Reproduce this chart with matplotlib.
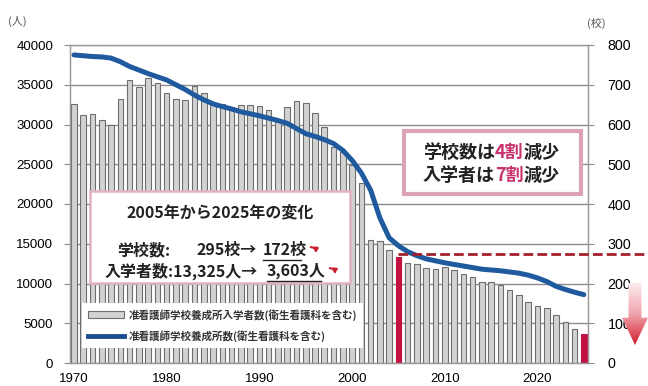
import numpy as np
import matplotlib
matplotlib.use('Agg')
import matplotlib.pyplot as plt
from matplotlib.patches import Patch, Rectangle, Polygon, FancyArrowPatch
from matplotlib.lines import Line2D
from matplotlib.colors import LinearSegmentedColormap

plt.rcParams['font.family'] = ['Noto Sans CJK JP', 'DejaVu Sans']

# 年次データ（1970〜2025）
years = list(range(1970, 2026))
# 入学者数（人）
students = [
    32600, 31200, 31300, 30600, 30000, 33200, 35600, 34700, 35800, 35200,
    34000, 33200, 33100, 34800, 34000, 32400, 32600, 32200, 32400, 32500,
    32300, 31800, 30400, 32200, 32900, 32700, 31400, 29700, 27200, 26500,
    24900, 22600, 15500, 15300, 14200, 13325, 12620, 12450, 11910, 11780,
    12040, 11700, 11200, 10780, 10230, 10150, 9810, 9180, 8550, 7710,
    7170, 6880, 6040, 5200, 4240, 3603,
]
# 養成所数（校）
schools = [
    775, 773, 771, 770, 767, 758, 746, 737, 728, 720,
    712, 700, 688, 674, 662, 652, 645, 639, 632, 627,
    622, 616, 610, 603, 590, 577, 570, 562, 552, 535,
    510, 478, 435, 365, 315, 295, 280, 270, 262, 257,
    252, 248, 244, 240, 236, 234, 232, 229, 226, 221,
    214, 205, 193, 185, 178, 172,
]
highlight_years = [2005, 2025]
ref_level = 273   # 2005年前後の水準（右軸）

legend_labels = ['准看護師学校養成所入学者数(衛生看護科を含む)',
                 '准看護師学校養成所数(衛生看護科を含む)']
x_ticks = [1970, 1980, 1990, 2000, 2010, 2020]

W, H = 648, 386
def fx(px):
    return px / W
def fy(py):
    return 1 - py / H

fig = plt.figure(figsize=(W / 100, H / 100), dpi=100)
renderer = fig.canvas.get_renderer()
ax = fig.add_axes([fx(70), fy(363), (588 - 70) / W, (363 - 45) / H])
ax2 = ax.twinx()

num_font = 'Liberation Sans'

# 棒グラフ：入学者数
bar_colors = ['#c3123f' if y in highlight_years else '#d2d2d2' for y in years]
edge_colors = ['#c3123f' if y in highlight_years else '#6e6e6e' for y in years]
ax.bar(years, students, width=0.6, color=bar_colors, edgecolor=edge_colors,
       linewidth=0.8, zorder=2)

ax.set_xlim(1969.57, 2025.45)
ax.set_ylim(0, 40000)
ax.set_yticks(range(0, 40001, 5000))
ax.set_xticks(x_ticks)
ax.yaxis.grid(True, color='#8c8c8c', linewidth=1.0)
ax.set_axisbelow(True)
ax.tick_params(axis='y', length=4, color='#8c8c8c', pad=8, labelsize=9.5)
ax.tick_params(axis='x', length=0, pad=7, labelsize=9.5)
for lab in ax.get_yticklabels() + ax.get_xticklabels():
    lab.set_fontfamily(num_font)

# 折れ線：養成所数
ax2.plot(years, schools, color='#1f5a9e', linewidth=3.6, solid_capstyle='round',
         zorder=3)
ax2.set_ylim(0, 800)
ax2.set_yticks(range(0, 801, 100))
ax2.tick_params(axis='y', length=4, color='#8c8c8c', pad=10, labelsize=10.3)
for lab in ax2.get_yticklabels():
    lab.set_fontfamily(num_font)

for a in (ax, ax2):
    for s in a.spines.values():
        s.set_color('#9a9a9a')
        s.set_linewidth(0.9)

# 2005年水準の破線
ax2.plot([2005, 2032], [ref_level, ref_level], color='#a3202c', linewidth=2.0,
         linestyle=(0, (3.5, 1.5)), clip_on=False, zorder=4)

# 単位
fig.text(fx(8), fy(21), '(人)', fontsize=8, color='#555555', va='center')
fig.text(fx(587), fy(23), '(校)', fontsize=8, color='#555555', va='center')


def chain_text(x_px, y_px, parts, **kw):
    """文字列を左から順に並べる。最後の右端(px)を返す"""
    x = x_px
    for s, c in parts:
        t = fig.text(fx(x), fy(y_px), s, color=c, ha='left', va='center', **kw)
        x = t.get_window_extent(renderer=renderer).x1
    return x


def curl_arrow(x_px, y_px):
    # 右へ出て下へ曲がる小さな矢印
    fig.patches.append(FancyArrowPatch(
        (fx(x_px - 5), fy(y_px - 4)), (fx(x_px + 2), fy(y_px + 5)),
        transform=fig.transFigure, connectionstyle='arc3,rad=-0.7',
        arrowstyle='-|>', mutation_scale=6, color='#c8202c', linewidth=1.5,
        zorder=7))


# 変化の説明ボックス
fig.patches.append(Rectangle((fx(90), fy(283)), (350 - 90) / W, (283 - 191) / H,
                             transform=fig.transFigure, facecolor='white',
                             edgecolor='#e2b2bf', linewidth=1.8, zorder=5))
txt_kw = dict(fontsize=11.5, fontweight='bold', color='#222222', va='center', zorder=6)
fig.text(fx(220), fy(212), '2005年から2025年の変化', ha='center', **txt_kw)
fig.text(fx(117), fy(250), '学校数:', ha='left', **txt_kw)
fig.text(fx(257), fy(250), '295校→', ha='right', **txt_kw)
fig.text(fx(263), fy(250), '172校', ha='left', **txt_kw)
fig.text(fx(105), fy(271), '入学者数:13,325人→', ha='left', **txt_kw)
fig.text(fx(267), fy(271), '3,603人', ha='left', **txt_kw)
for x0, x1, yy in [(263, 301, 260), (267, 321, 281)]:
    fig.add_artist(Line2D([fx(x0), fx(x1)], [fy(yy), fy(yy)], color='#222222',
                          linewidth=1.0, transform=fig.transFigure, zorder=6))
curl_arrow(313, 251)
curl_arrow(332, 272)

# 減少率ボックス
fig.patches.append(Rectangle((fx(404), fy(194)), (581 - 404) / W, (194 - 131) / H,
                             transform=fig.transFigure, facecolor='white',
                             edgecolor='#dba3b4', linewidth=3.0, zorder=5))
for yy, head, pct in [(152, '学校数は', '4割'), (175, '入学者は', '7割')]:
    chain_text(423, yy, [(head, '#222222'), (pct, '#c8336e'), ('減少', '#222222')],
               fontsize=13, fontweight='bold', zorder=6)

# 凡例
handles = [Patch(facecolor='#d2d2d2', edgecolor='#6e6e6e', linewidth=0.8),
           Line2D([], [], color='#1a4d8f', linewidth=3.5)]
leg = fig.legend(handles, legend_labels, loc='upper left',
                 bbox_to_anchor=(fx(82), fy(303)), borderaxespad=0,
                 frameon=True, facecolor='white', edgecolor='none', framealpha=1,
                 fancybox=False, handlelength=3.4, handletextpad=0.5,
                 labelspacing=0.95, borderpad=0.55,
                 prop={'size': 7.6, 'weight': 'bold',
                       'family': ['Noto Sans CJK JP', 'DejaVu Sans']})
for t in leg.get_texts():
    t.set_color('#333333')

# 下向き矢印（グラデーション）
arr_ax = fig.add_axes([fx(622), fy(345), 26 / W, 62 / H])
arr_ax.set_xlim(0, 1)
arr_ax.set_ylim(0, 1)
arr_ax.axis('off')
cmap = LinearSegmentedColormap.from_list('arr', ['#fdeef0', '#f1a5ad', '#d3202f'])
grad = np.linspace(0, 1, 120).reshape(-1, 1)
im = arr_ax.imshow(grad, cmap=cmap, aspect='auto', extent=[0, 1, 0, 1])
shape = Polygon([(0.25, 1), (0.75, 1), (0.75, 0.44), (1.0, 0.44), (0.5, 0.0),
                 (0.0, 0.44), (0.25, 0.44)], closed=True, facecolor='none',
                edgecolor='none', transform=arr_ax.transData)
arr_ax.add_patch(shape)
im.set_clip_path(shape)

plt.savefig('out.png', dpi=100)
plt.close()
